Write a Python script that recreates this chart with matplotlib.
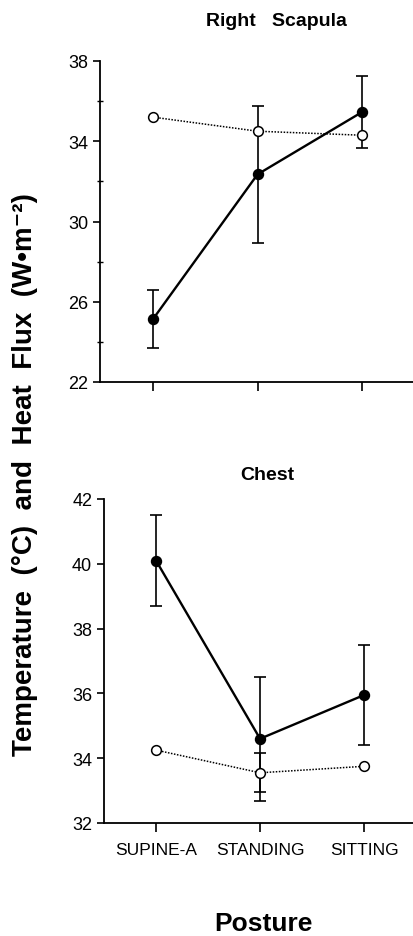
import numpy as np
import matplotlib
matplotlib.use('Agg')
import matplotlib.pyplot as plt
from matplotlib import font_manager


postures = ['SUPINE-A', 'STANDING', 'SITTING']

# Right scapula
scap_filled = [25.15, 32.35, 35.45]
scap_filled_err = [1.45, 3.4, 1.8]
scap_open = [35.2, 34.5, 34.3]
scap_open_err = [0.0, 0.0, 0.0]
scap_yticks = [22, 26, 30, 34, 38]
scap_yminor = [24, 28, 32, 36]

# Chest
chest_filled = [40.1, 34.6, 35.95]
chest_filled_err = [1.4, 1.92, 1.55]
chest_open = [34.25, 33.55, 33.75]
chest_open_err = [0.0, 0.6, 0.0]
chest_yticks = [32, 34, 36, 38, 40, 42]


plt.rcParams['font.family'] = ['Liberation Sans', 'DejaVu Sans']

names = {f.name for f in font_manager.fontManager.ttflist}
if 'Liberation Sans Narrow' in names:
    xfont = dict(family=['Liberation Sans Narrow', 'DejaVu Sans'], size=15)
else:
    xfont = dict(family=['Liberation Sans', 'DejaVu Sans'], size=12.5)


def panel(ax, filled, ferr, opn, oerr, yticks, minor, xlim):
    x = np.arange(len(postures))
    ax.errorbar(x, filled, yerr=ferr, fmt='none', ecolor='black',
                elinewidth=1.2, capsize=4, capthick=1.2, zorder=2)
    ax.plot(x, filled, '-o', color='black', lw=1.7, ms=7.2, zorder=3)
    ax.plot(x, opn, color='black', lw=1.1, ls=(0, (1, 1)), zorder=3)
    idx = [i for i, e in enumerate(oerr) if e > 0]
    if idx:
        ax.errorbar(x[idx], np.array(opn)[idx], yerr=np.array(oerr)[idx],
                    fmt='none', ecolor='black', elinewidth=1.2, capsize=4,
                    capthick=1.2, zorder=2)
    ax.plot(x, opn, 'o', ms=7, mfc='white', mec='black', mew=1.1, zorder=4)

    ax.set_xlim(*xlim)
    ax.set_ylim(yticks[0], yticks[-1])
    ax.set_xticks(x)
    ax.set_yticks(yticks)
    if minor:
        ax.set_yticks(minor, minor=True)
        ax.tick_params(axis='y', which='minor', direction='inout', length=4, width=1)
    for s in ['top', 'right']:
        ax.spines[s].set_visible(False)
    for s in ['left', 'bottom']:
        ax.spines[s].set_linewidth(1.3)
    ax.tick_params(axis='y', which='major', direction='out', length=5, width=1.2,
                   pad=3.5, labelsize=13)
    ax.tick_params(axis='x', direction='out', length=6.5, width=1.2, pad=7)


fig = plt.figure(figsize=(4.13, 9.37), dpi=100)

ax1 = fig.add_axes([100 / 413, 1 - 383 / 937, 313 / 413, 321 / 937])
panel(ax1, scap_filled, scap_filled_err, scap_open, scap_open_err,
      scap_yticks, scap_yminor, (-0.51, 2.49))
ax1.set_xticklabels([])

ax2 = fig.add_axes([104 / 413, 1 - 824 / 937, 309 / 413, 324 / 937])
panel(ax2, chest_filled, chest_filled_err, chest_open, chest_open_err,
      chest_yticks, None, (-0.5, 2.47))
ax2.set_xticklabels(postures, **xfont)

fig.text(276 / 413, 1 - 21 / 937, 'Right   Scapula', ha='center', va='center',
         fontsize=14, fontweight='bold')
fig.text(267 / 413, 1 - 476 / 937, 'Chest', ha='center', va='center',
         fontsize=14, fontweight='bold')
fig.text(25 / 413, 1 - 475 / 937,
         'Temperature  (\u00b0C)  and  Heat  Flux  (W\u2022m\u207b\u00b2)',
         rotation=90, ha='center', va='center', fontsize=20, fontweight='bold')
fig.text(263 / 413, 1 - 924 / 937, 'Posture', ha='center', va='center',
         fontsize=19, fontweight='bold')

fig.savefig('out.png', dpi=100)
